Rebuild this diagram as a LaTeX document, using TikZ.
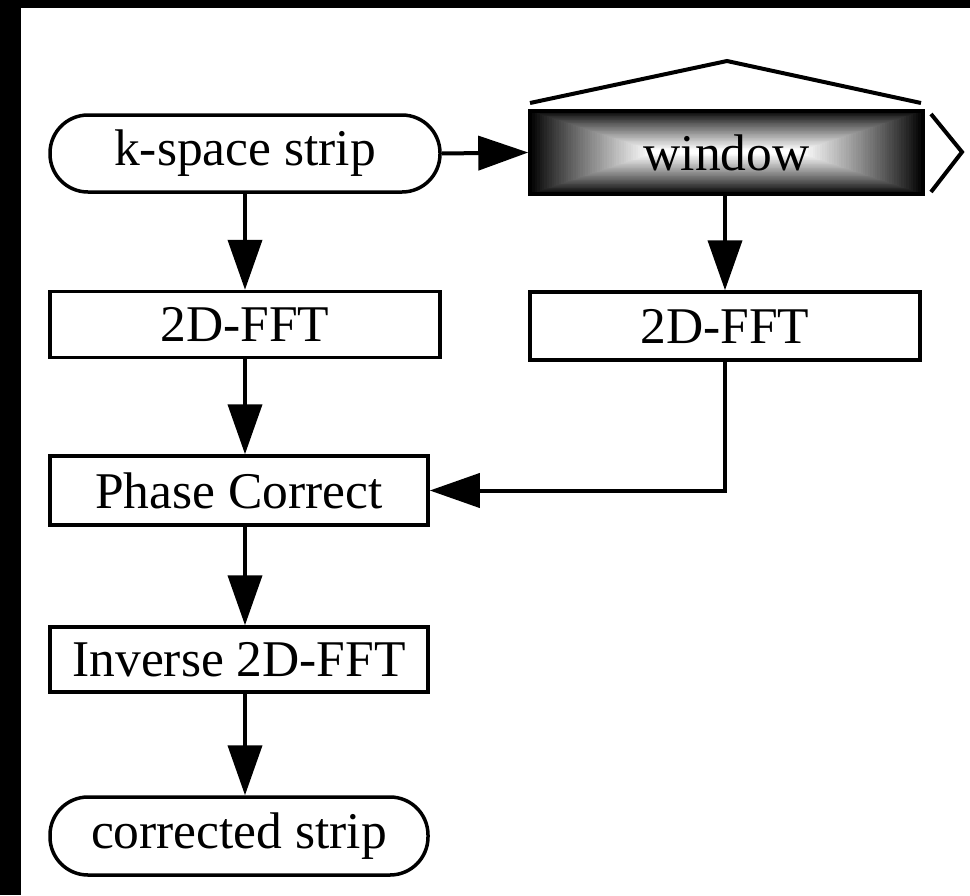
\documentclass[tikz,border=0pt]{standalone}
\usepackage{fontspec}
\setmainfont{Liberation Serif}
\usetikzlibrary{arrows.meta,calc}
\begin{document}
\begin{tikzpicture}[x=1pt,y=-1pt,
  every node/.style={font=\fontsize{51.5}{60}\selectfont, inner sep=0pt},
  procbox/.style={draw, line width=3.5pt, minimum height=66pt},
  termbox/.style={draw, line width=3.5pt, minimum height=77pt, rounded corners=38pt},
  flow/.style={line width=4pt, -{Triangle[length=50pt,width=34pt]}},
  plain/.style={line width=4pt}]
\useasboundingbox (0,0) rectangle (970,895);
\fill[white] (0,0) rectangle (970,895);
\fill[black] (0,0) rectangle (21,895);
\fill[black] (0,0) rectangle (970,8);
% window gradient
\foreach \i in {0,...,50}{
  \pgfmathsetmacro{\t}{\i/50}
  \pgfmathsetmacro{\g}{100*(\t^0.9)}
  \fill[white!\g!black] ({530+\t*120},{111+\t*39}) rectangle ({923-\t*120},{194-\t*40});
}
\node[procbox, minimum height=83pt, minimum width=393pt] (win) at (726.5,152.5) {window};
\node[termbox, minimum width=390pt] (ks) at (245,153.5) {k-space strip};
\node[procbox, minimum width=390pt] (fa) at (245,324.5) {2D-FFT};
\node[procbox, minimum width=390pt, minimum height=68pt] (fb) at (725,326) {2D-FFT};
\node[procbox, minimum width=378pt, minimum height=69pt] (pc) at (239,490.5) {Phase Correct};
\node[procbox, minimum width=378pt, minimum height=65pt] (inv) at (239,659.5) {Inverse 2D-FFT};
\node[termbox, minimum width=378pt, minimum height=78pt] (cs) at (239,836) {corrected strip};
% roof and chevron
\coordinate (rl) at (530,103);
\coordinate (rt) at (727,61);
\coordinate (rr) at (921,103);
\draw[plain] (rl) -- (rt) -- (rr);
\coordinate (c1) at (931,114);
\coordinate (c2) at (962,152);
\coordinate (c3) at (931,192);
\draw[plain, line join=miter] (c1) -- (c2) -- (c3);
% connectors
\draw[flow] (ks.east) -- (win.west);
\draw[flow] (ks.south) -- (fa.north);
\draw[flow] (win.south -| fb) -- (fb.north);
\draw[flow] (fa.south) -- (pc.north -| fa);
\draw[flow] (pc.south -| fa) -- (inv.north -| fa);
\draw[flow] (inv.south -| fa) -- (cs.north -| fa);
\draw[flow] (fb.south) |- (pc.east);
\end{tikzpicture}
\end{document}
